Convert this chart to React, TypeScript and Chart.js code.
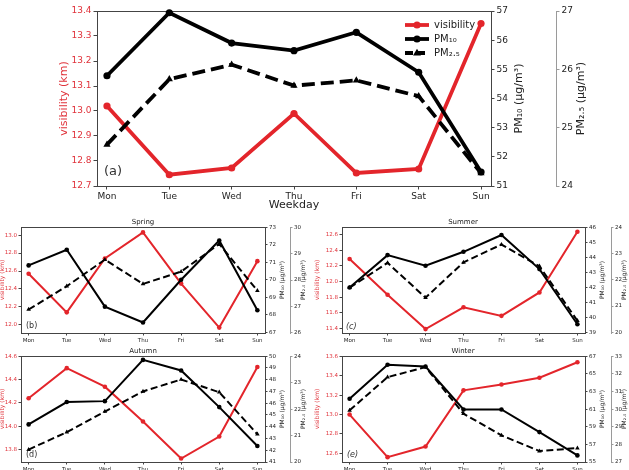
import React, { useEffect, useRef } from 'react';
import { Chart, registerables } from 'chart.js';

Chart.register(...registerables);

// ---------------- data ----------------
const weekdays = ['Mon', 'Tue', 'Wed', 'Thu', 'Fri', 'Sat', 'Sun'];

// (a) whole period
const visYear = [13.02, 12.745, 12.772, 12.99, 12.752, 12.768, 13.35];
const pm10Year = [54.78, 56.94, 55.9, 55.64, 56.27, 54.9, 51.48];
const pm25Year = [24.71, 25.83, 26.08, 25.72, 25.81, 25.54, 24.22];
const visTicksYear = [12.7, 12.8, 12.9, 13.0, 13.1, 13.2, 13.3, 13.4];
const pm10TicksYear = [51, 52, 53, 54, 55, 56, 57];
const pm25TicksYear = [24, 25, 26, 27];

// (b) Spring
const visSpring = [12.57, 12.14, 12.74, 13.03, 12.46, 11.97, 12.71];
const pm10Spring = [70.82, 71.72, 68.46, 67.55, 70.0, 72.25, 68.25];
const pm25Spring = [26.87, 27.76, 28.78, 27.85, 28.32, 29.38, 27.59];
const visTicksSpring = [12.0, 12.2, 12.4, 12.6, 12.8, 13.0];
const pm10TicksSpring = [67, 68, 69, 70, 71, 72, 73];
const pm25TicksSpring = [26, 27, 28, 29, 30];

// (c) Summer
const visSummer = [12.29, 11.83, 11.39, 11.67, 11.56, 11.86, 12.64];
const pm10Summer = [42.0, 44.15, 43.44, 44.37, 45.49, 43.22, 39.55];
const pm25Summer = [21.7, 22.65, 21.32, 22.67, 23.35, 22.52, 20.44];
const visTicksSummer = [11.4, 11.6, 11.8, 12.0, 12.2, 12.4, 12.6];
const pm10TicksSummer = [39, 40, 41, 42, 43, 44, 45, 46];
const pm25TicksSummer = [20, 21, 22, 23, 24];

// (d) Autumn
const visAutumn = [14.24, 14.5, 14.34, 14.04, 13.72, 13.91, 14.51];
const pm10Autumn = [44.2, 46.1, 46.18, 49.69, 48.79, 45.67, 42.36];
const pm25Autumn = [20.47, 21.13, 21.91, 22.67, 23.12, 22.64, 21.05];
const visTicksAutumn = [13.8, 14.0, 14.2, 14.4, 14.6];
const pm10TicksAutumn = [41, 42, 43, 44, 45, 46, 47, 48, 49, 50];
const pm25TicksAutumn = [20, 21, 22, 23, 24];

// (e) Winter
const visWinter = [13.0, 12.56, 12.67, 13.25, 13.31, 13.38, 13.54];
const pm10Winter = [62.17, 66.02, 65.83, 60.96, 60.96, 58.39, 55.75];
const pm25Winter = [29.93, 31.81, 32.38, 29.74, 28.51, 27.62, 27.79];
const visTicksWinter = [12.6, 12.8, 13.0, 13.2, 13.4, 13.6];
const pm10TicksWinter = [55, 56, 57, 58, 59, 60, 61, 62, 63, 64, 65, 66, 67];
const pm25TicksWinter = [27, 28, 29, 30, 31, 32, 33];

// ---------------- styles ----------------
const RED = '#e3252b';
const RED_TXT = '#e0323a';
const INK = '#222222';
const FRAME = '#444444';
const GRAY_AXIS = '#9a9a9a';
const FAMILY = '"DejaVu Sans", sans-serif';

type Panel = {
  vis: number[]; pm10: number[]; pm25: number[];
  visTicks: number[]; pm10Ticks: number[]; pm25Ticks: number[];
  visRange: [number, number]; pm10Range: [number, number]; pm25Range: [number, number];
};

type Layout = {
  canvas: { x: number; y: number; w: number; h: number };
  area: { l: number; t: number; r: number; b: number };
  y2Line: number;
  xMin: number; xMax: number;
  tickFont: number; tickLen: number; tickPad: number;
  lw: number; radius: number; dash: number[];
  titleFont: number;
  visTitleX: number; pm10TitleX: number; pm25TitleX: number;
  tag: string; tagX: number; tagY: number; tagFont: number; tagItalic: boolean;
  header?: { text: string; x: number; y: number; size: number };
  xTitle?: { text: string; x: number; y: number; size: number };
  legend?: { x: number; y: number; gap: number; size: number };
};

const panels: { p: Panel; L: Layout }[] = [
  {
    p: {
      vis: visYear, pm10: pm10Year, pm25: pm25Year,
      visTicks: visTicksYear, pm10Ticks: pm10TicksYear, pm25Ticks: pm25TicksYear,
      visRange: [12.7, 13.4], pm10Range: [51, 57], pm25Range: [24, 27],
    },
    L: {
      canvas: { x: 0, y: 0, w: 629, h: 216 },
      area: { l: 97, t: 11, r: 491, b: 186 },
      y2Line: 556, xMin: -0.16, xMax: 6.16,
      tickFont: 9, tickLen: 3.5, tickPad: 2,
      lw: 3.8, radius: 3.6, dash: [13, 6],
      titleFont: 11, visTitleX: 64, pm10TitleX: 519, pm25TitleX: 581,
      tag: '(a)', tagX: 104, tagY: 172, tagFont: 13, tagItalic: false,
      xTitle: { text: 'Weekday', x: 294, y: 205, size: 11 },
      legend: { x: 405, y: 25, gap: 14, size: 10 },
    },
  },
  {
    p: {
      vis: visSpring, pm10: pm10Spring, pm25: pm25Spring,
      visTicks: visTicksSpring, pm10Ticks: pm10TicksSpring, pm25Ticks: pm25TicksSpring,
      visRange: [11.91, 13.09], pm10Range: [66.95, 73.02], pm25Range: [25.97, 30.03],
    },
    L: {
      canvas: { x: -40, y: 212, w: 355, h: 136 },
      area: { l: 21, t: 227, r: 265, b: 333 },
      y2Line: 290, xMin: -0.2, xMax: 6.2,
      tickFont: 5.5, tickLen: 2.5, tickPad: 1.5,
      lw: 2, radius: 2.3, dash: [7, 3.5],
      titleFont: 6, visTitleX: 2, pm10TitleX: 282, pm25TitleX: 303,
      tag: '(b)', tagX: 26, tagY: 326, tagFont: 8, tagItalic: false,
      header: { text: 'Spring', x: 143, y: 222, size: 7 },
    },
  },
  {
    p: {
      vis: visSummer, pm10: pm10Summer, pm25: pm25Summer,
      visTicks: visTicksSummer, pm10Ticks: pm10TicksSummer, pm25Ticks: pm25TicksSummer,
      visRange: [11.34, 12.7], pm10Range: [38.97, 46.02], pm25Range: [19.97, 24.02],
    },
    L: {
      canvas: { x: 305, y: 212, w: 340, h: 136 },
      area: { l: 342, t: 227, r: 585, b: 333 },
      y2Line: 611, xMin: -0.2, xMax: 6.2,
      tickFont: 5.5, tickLen: 2.5, tickPad: 1.5,
      lw: 2, radius: 2.3, dash: [7, 3.5],
      titleFont: 6, visTitleX: 317, pm10TitleX: 602, pm25TitleX: 624,
      tag: '(c)', tagX: 346, tagY: 327, tagFont: 8, tagItalic: true,
      header: { text: 'Summer', x: 463, y: 222, size: 7 },
    },
  },
  {
    p: {
      vis: visAutumn, pm10: pm10Autumn, pm25: pm25Autumn,
      visTicks: visTicksAutumn, pm10Ticks: pm10TicksAutumn, pm25Ticks: pm25TicksAutumn,
      visRange: [13.69, 14.605], pm10Range: [41, 50.02], pm25Range: [20, 24.01],
    },
    L: {
      canvas: { x: -40, y: 341, w: 355, h: 136 },
      area: { l: 21, t: 356, r: 265, b: 462 },
      y2Line: 290, xMin: -0.2, xMax: 6.2,
      tickFont: 5.5, tickLen: 2.5, tickPad: 1.5,
      lw: 2, radius: 2.3, dash: [7, 3.5],
      titleFont: 6, visTitleX: 2, pm10TitleX: 282, pm25TitleX: 303,
      tag: '(d)', tagX: 26, tagY: 455, tagFont: 8, tagItalic: false,
      header: { text: 'Autumn', x: 143, y: 351, size: 7 },
    },
  },
  {
    p: {
      vis: visWinter, pm10: pm10Winter, pm25: pm25Winter,
      visTicks: visTicksWinter, pm10Ticks: pm10TicksWinter, pm25Ticks: pm25TicksWinter,
      visRange: [12.51, 13.605], pm10Range: [55, 67.02], pm25Range: [27, 33.01],
    },
    L: {
      canvas: { x: 305, y: 341, w: 340, h: 136 },
      area: { l: 342, t: 356, r: 585, b: 462 },
      y2Line: 611, xMin: -0.2, xMax: 6.2,
      tickFont: 5.5, tickLen: 2.5, tickPad: 1.5,
      lw: 2, radius: 2.3, dash: [7, 3.5],
      titleFont: 6, visTitleX: 317, pm10TitleX: 602, pm25TitleX: 624,
      tag: '(e)', tagX: 347, tagY: 455, tagFont: 8, tagItalic: true,
      header: { text: 'Winter', x: 463, y: 351, size: 7 },
    },
  },
];

// ---------------- helpers ----------------
function xy(vals: number[]) {
  return vals.map((v, i) => ({ x: i, y: v }));
}

function fixedTicks(values: number[]) {
  return (axis: any) => {
    axis.ticks = values.map((v) => ({ value: v }));
  };
}

function vText(ctx: CanvasRenderingContext2D, text: string, x: number, y: number, size: number, color: string) {
  ctx.save();
  ctx.translate(x, y);
  ctx.rotate(-Math.PI / 2);
  ctx.font = `${size}px ${FAMILY}`;
  ctx.fillStyle = color;
  ctx.textAlign = 'center';
  ctx.textBaseline = 'middle';
  ctx.fillText(text, 0, 0);
  ctx.restore();
}

function hText(ctx: CanvasRenderingContext2D, text: string, x: number, y: number, size: number, color: string, align: CanvasTextAlign, italic = false) {
  ctx.save();
  ctx.font = `${italic ? 'italic ' : ''}${size}px ${FAMILY}`;
  ctx.fillStyle = color;
  ctx.textAlign = align;
  ctx.textBaseline = 'middle';
  ctx.fillText(text, x, y);
  ctx.restore();
}

function marker(ctx: CanvasRenderingContext2D, style: string, x: number, y: number, r: number, color: string) {
  ctx.save();
  ctx.fillStyle = color;
  ctx.beginPath();
  if (style === 'triangle') {
    ctx.moveTo(x, y - r * 1.2);
    ctx.lineTo(x + r * 1.1, y + r * 0.7);
    ctx.lineTo(x - r * 1.1, y + r * 0.7);
    ctx.closePath();
  } else {
    ctx.arc(x, y, r, 0, Math.PI * 2);
  }
  ctx.fill();
  ctx.restore();
}

function decorPlugin(L: Layout) {
  return {
    id: 'decor',
    beforeDatasetsDraw(chart: any) {
      const ctx = chart.ctx as CanvasRenderingContext2D;
      const a = chart.chartArea;
      ctx.save();
      ctx.strokeStyle = FRAME;
      ctx.lineWidth = 1;
      ctx.strokeRect(Math.round(a.left) + 0.5, Math.round(a.top) + 0.5, Math.round(a.right - a.left), Math.round(a.bottom - a.top));
      ctx.restore();
    },
    afterDraw(chart: any) {
      const ctx = chart.ctx as CanvasRenderingContext2D;
      const a = chart.chartArea;
      const ox = L.canvas.x;
      const oy = L.canvas.y;
      const cy = (a.top + a.bottom) / 2;
      vText(ctx, 'visibility (km)', L.visTitleX - ox, cy, L.titleFont, RED_TXT);
      vText(ctx, 'PM\u2081\u2080 (\u03bcg/m\u00b3)', L.pm10TitleX - ox, cy, L.titleFont, INK);
      vText(ctx, 'PM\u2082.\u2085 (\u03bcg/m\u00b3)', L.pm25TitleX - ox, cy, L.titleFont, INK);
      hText(ctx, L.tag, L.tagX - ox, L.tagY - oy, L.tagFont, '#333', 'left', L.tagItalic);
      if (L.header) hText(ctx, L.header.text, L.header.x - ox, L.header.y - oy, L.header.size, INK, 'center');
      if (L.xTitle) hText(ctx, L.xTitle.text, L.xTitle.x - ox, L.xTitle.y - oy, L.xTitle.size, INK, 'center');
      if (L.legend) {
        const lg = L.legend;
        const rows = [
          { label: 'visibility', color: RED, dash: [] as number[], style: 'circle' },
          { label: 'PM\u2081\u2080', color: '#000', dash: [] as number[], style: 'circle' },
          { label: 'PM\u2082.\u2085', color: '#000', dash: [8, 4], style: 'triangle' },
        ];
        rows.forEach((row, i) => {
          const y = lg.y - oy + i * lg.gap;
          const x0 = lg.x - ox;
          ctx.save();
          ctx.strokeStyle = row.color;
          ctx.lineWidth = L.lw;
          ctx.setLineDash(row.dash);
          ctx.beginPath();
          ctx.moveTo(x0, y);
          ctx.lineTo(x0 + 24, y);
          ctx.stroke();
          ctx.restore();
          marker(ctx, row.style, x0 + 12, y, L.radius, row.color);
          hText(ctx, row.label, x0 + 29, y, lg.size, INK, 'left');
        });
      }
    },
  };
}

function buildConfig(p: Panel, L: Layout): any {
  const yW = L.area.l - L.canvas.x;
  const padTop = L.area.t - L.canvas.y;
  const xH = L.canvas.y + L.canvas.h - L.area.b;
  const y1W = L.y2Line - L.area.r;
  const y2W = L.canvas.x + L.canvas.w - L.y2Line;
  const font = { family: FAMILY, size: L.tickFont };
  const grid = (color: string) => ({
    display: true, drawOnChartArea: false, drawTicks: true, tickLength: L.tickLen, color, lineWidth: 1,
  });
  return {
    type: 'line',
    data: {
      datasets: [
        {
          label: 'visibility', data: xy(p.vis), yAxisID: 'y',
          borderColor: RED, backgroundColor: RED, pointBackgroundColor: RED, pointBorderColor: RED,
          borderWidth: L.lw, pointRadius: L.radius, pointBorderWidth: 0, pointStyle: 'circle',
          order: 3, clip: false, tension: 0,
        },
        {
          label: 'PM\u2081\u2080', data: xy(p.pm10), yAxisID: 'y1',
          borderColor: '#000', backgroundColor: '#000', pointBackgroundColor: '#000', pointBorderColor: '#000',
          borderWidth: L.lw, pointRadius: L.radius, pointBorderWidth: 0, pointStyle: 'circle',
          order: 2, clip: false, tension: 0,
        },
        {
          label: 'PM\u2082.\u2085', data: xy(p.pm25), yAxisID: 'y2',
          borderColor: '#000', backgroundColor: '#000', pointBackgroundColor: '#000', pointBorderColor: '#000',
          borderWidth: L.lw, borderDash: L.dash, pointRadius: L.radius * 1.15, pointBorderWidth: 0,
          pointStyle: 'triangle', order: 1, clip: false, tension: 0,
        },
      ],
    },
    options: {
      responsive: false,
      maintainAspectRatio: false,
      animation: false,
      devicePixelRatio: 1,
      layout: { padding: { left: 0, right: 0, top: padTop, bottom: 0 } },
      plugins: { legend: { display: false }, tooltip: { enabled: false }, title: { display: false } },
      scales: {
        x: {
          type: 'linear', min: L.xMin, max: L.xMax,
          afterBuildTicks: fixedTicks(weekdays.map((_, i) => i)),
          afterFit: (s: any) => { s.height = xH; },
          ticks: {
            font, color: INK, padding: L.tickPad, autoSkip: false, maxRotation: 0,
            callback: (v: number) => weekdays[v] ?? '',
          },
          grid: grid(FRAME), border: { display: false },
        },
        y: {
          type: 'linear', position: 'left', min: p.visRange[0], max: p.visRange[1],
          afterBuildTicks: fixedTicks(p.visTicks),
          afterFit: (s: any) => { s.width = yW; },
          ticks: { font, color: RED_TXT, padding: L.tickPad, callback: (v: number) => v.toFixed(1) },
          grid: grid(FRAME), border: { display: false },
        },
        y1: {
          type: 'linear', position: 'right', weight: 0, min: p.pm10Range[0], max: p.pm10Range[1],
          afterBuildTicks: fixedTicks(p.pm10Ticks),
          afterFit: (s: any) => { s.width = y1W; },
          ticks: { font, color: INK, padding: L.tickPad, callback: (v: number) => String(Math.round(v)) },
          grid: grid(FRAME), border: { display: false },
        },
        y2: {
          type: 'linear', position: 'right', weight: 1, min: p.pm25Range[0], max: p.pm25Range[1],
          afterBuildTicks: fixedTicks(p.pm25Ticks),
          afterFit: (s: any) => { s.width = y2W; },
          ticks: { font, color: INK, padding: L.tickPad, callback: (v: number) => String(Math.round(v)) },
          grid: grid(GRAY_AXIS), border: { display: true, color: GRAY_AXIS, width: 1 },
        },
      },
    },
    plugins: [decorPlugin(L)],
  };
}

function PanelChart({ p, L }: { p: Panel; L: Layout }) {
  const ref = useRef<HTMLCanvasElement>(null);
  useEffect(() => {
    if (!ref.current) return;
    const chart = new Chart(ref.current, buildConfig(p, L));
    return () => chart.destroy();
  }, []);
  return (
    <canvas
      ref={ref}
      width={L.canvas.w}
      height={L.canvas.h}
      style={{ position: 'absolute', left: L.canvas.x, top: L.canvas.y, width: L.canvas.w, height: L.canvas.h }}
    />
  );
}

export default function App() {
  Chart.defaults.font.family = FAMILY;
  return (
    <div style={{ position: 'fixed', left: 0, top: 0, width: 629, height: 470, overflow: 'hidden', background: '#ffffff' }}>
      {panels.map((pl, i) => (
        <PanelChart key={i} p={pl.p} L={pl.L} />
      ))}
    </div>
  );
}
